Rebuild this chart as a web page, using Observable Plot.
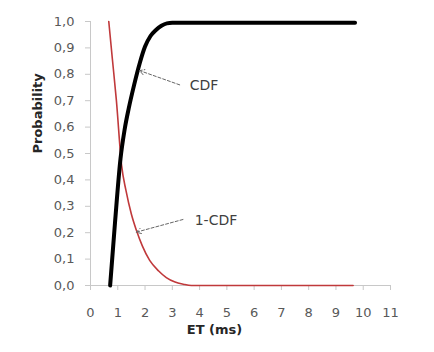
<!DOCTYPE html>
<html><head><meta charset="utf-8">
<script src="https://cdn.jsdelivr.net/npm/d3@7"></script>
<script src="https://cdn.jsdelivr.net/npm/@observablehq/plot@0.6"></script>
<style>body{margin:0;background:#fff}#chart svg{display:block}</style>
</head><body><div id="chart"></div>
<script>
// CDF curve (black)
const cdfX = [0.72, 0.9, 1.1, 1.25, 1.4, 1.6, 1.8, 2.0, 2.2, 2.4, 2.6, 2.8, 3.0, 9.7];
const cdfY = [0.0, 0.24, 0.48, 0.59, 0.67, 0.76, 0.84, 0.905, 0.945, 0.968, 0.984, 0.993, 0.995, 0.995];
// 1-CDF curve (red)
const invX = [0.67, 0.8, 0.95, 1.14, 1.3, 1.5, 1.68, 1.9, 2.17, 2.5, 2.78, 3.1, 3.4, 3.7, 9.63];
const invY = [1.0, 0.86, 0.70, 0.455, 0.36, 0.27, 0.21, 0.15, 0.095, 0.055, 0.03, 0.013, 0.005, 0.0, 0.0];
// ticks
const xTicks = [0, 1, 2, 3, 4, 5, 6, 7, 8, 9, 10, 11];
const yTicks = [0, 0.1, 0.2, 0.3, 0.4, 0.5, 0.6, 0.7, 0.8, 0.9, 1.0];
const yTickLabels = ["0,0", "0,1", "0,2", "0,3", "0,4", "0,5", "0,6", "0,7", "0,8", "0,9", "1,0"];
// annotations
const noteText = ["CDF", "1-CDF"];
const noteX = [3.64, 3.82];
const noteY = [0.758, 0.246];
const arrowX1 = [3.27, 3.39];
const arrowY1 = [0.76, 0.25];
const arrowX2 = [1.80, 1.68];
const arrowY2 = [0.814, 0.202];

const cdf = cdfX.map((x, i) => ({x, y: cdfY[i]}));
const inv = invX.map((x, i) => ({x, y: invY[i]}));
const notes = noteText.map((t, i) => ({t, x: noteX[i], y: noteY[i]}));
const arrows = arrowX1.map((x1, i) => ({x1, y1: arrowY1[i], x2: arrowX2[i], y2: arrowY2[i]}));

const axisGray = "#c8c8c8";
const textGray = "#595959";

const chart = Plot.plot({
  width: 434,
  height: 352,
  marginLeft: 90,
  marginRight: 44,
  marginTop: 21,
  marginBottom: 67,
  style: {fontFamily: "DejaVu Sans", fontSize: "13px", background: "#fff"},
  x: {domain: [0, 11]},
  y: {domain: [0, 1]},
  marks: [
    Plot.ruleY([0], {stroke: axisGray, strokeWidth: 1}),
    Plot.ruleX([0], {stroke: axisGray, strokeWidth: 1}),
    Plot.axisX({ticks: xTicks, tickSize: 5, tickPadding: 17, stroke: axisGray, fill: textGray, label: null, fontSize: 13}),
    Plot.axisY({ticks: yTicks, tickSize: 5, tickPadding: 11, stroke: axisGray, fill: textGray, label: null, fontSize: 13,
      tickFormat: d => yTickLabels[yTicks.findIndex(t => Math.abs(t - d) < 1e-9)]}),
    Plot.line(inv, {x: "x", y: "y", stroke: "#c0393b", strokeWidth: 1.6, curve: "monotone-x"}),
    Plot.line(cdf, {x: "x", y: "y", stroke: "#000", strokeWidth: 4, curve: "monotone-x"}),
    Plot.arrow(arrows, {x1: "x1", y1: "y1", x2: "x2", y2: "y2", stroke: "#666", strokeWidth: 1, strokeDasharray: "3,2", headLength: 8}),
    Plot.text(notes, {x: "x", y: "y", text: "t", textAnchor: "start", fontSize: 14, fill: "#404040"}),
    Plot.text(["Probability"], {frameAnchor: "left", dx: -53, rotate: -90, fontWeight: "bold", fontSize: 13, fill: "#262626"}),
    Plot.text(["ET (ms)"], {frameAnchor: "bottom", dx: -26, dy: 48, fontWeight: "bold", fontSize: 13, fill: "#262626"})
  ]
});
document.getElementById("chart").appendChild(chart);
</script>
</body></html>
